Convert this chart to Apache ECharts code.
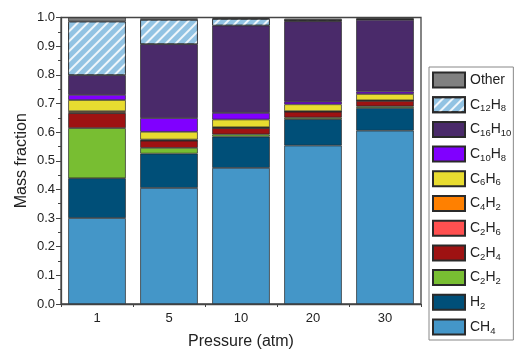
<!DOCTYPE html>
<html><head><meta charset="utf-8">
<script src="https://cdn.jsdelivr.net/npm/echarts@6/dist/echarts.min.js"></script>
<style>html,body{margin:0;padding:0;background:#fff}#c{width:518px;height:355px}</style>
</head><body><div id="c"></div>
<script>
var categories = ['1', '5', '10', '20', '30'];
var CH4    = [0.300, 0.405, 0.475, 0.553, 0.605];
var H2     = [0.139, 0.120, 0.109, 0.092, 0.079];
var C2H2   = [0.175, 0.020, 0.008, 0.006, 0.006];
var C2H4   = [0.052, 0.025, 0.022, 0.020, 0.019];
var C2H6   = [0.002, 0.001, 0.001, 0.001, 0.001];
var C4H2   = [0.005, 0.003, 0.002, 0.001, 0.001];
var C6H6   = [0.039, 0.027, 0.027, 0.024, 0.022];
var C10H8  = [0.018, 0.048, 0.023, 0.009, 0.008];
var C16H10 = [0.069, 0.258, 0.305, 0.281, 0.251];
var C12H8  = [0.187, 0.085, 0.023, 0.004, 0.002];
var Other  = [0.014, 0.005, 0.003, 0.005, 0.004];
var yTicks = [0, 0.1, 0.2, 0.3, 0.4, 0.5, 0.6, 0.7, 0.8, 0.9, 1.0];

var seriesDefs = [
  ['CH4', CH4, '#4496C8'],
  ['H2', H2, '#004F78'],
  ['C2H2', C2H2, '#78BE32'],
  ['C2H4', C2H4, '#9E1212'],
  ['C2H6', C2H6, '#FF5050'],
  ['C4H2', C4H2, '#FF8000'],
  ['C6H6', C6H6, '#E8DC30'],
  ['C10H8', C10H8, '#8000FF'],
  ['C16H10', C16H10, '#4A2A6A'],
  ['C12H8', C12H8, '#92C3E3'],
  ['Other', Other, '#808080']
];
var FONT = 'Liberation Sans, Arial, sans-serif';
var series = seriesDefs.map(function (d) {
  var s = {
    name: d[0], type: 'bar', stack: 'all', data: d[1], barWidth: '80%',
    itemStyle: { color: d[2], borderColor: '#2a2a2a', borderWidth: 0.7 }
  };
  if (d[0] === 'C12H8') {
    s.itemStyle.decal = { symbol: 'rect', symbolSize: 1, color: 'rgba(255,255,255,0.85)',
      dashArrayX: [1, 0], dashArrayY: [1.5, 4.5], rotation: -Math.PI / 4 };
  }
  return s;
});
var chart = echarts.init(document.getElementById('c'), null, { renderer: 'canvas' });
chart.setOption({
  animation: false,
  textStyle: { fontFamily: FONT },
  grid: { left: 61, right: 97, top: 17.5, bottom: 47, show: true, borderColor: '#444', borderWidth: 1.3, backgroundColor: 'transparent' },
  legend: {
    orient: 'vertical', left: 429, top: 67, itemWidth: 32, itemHeight: 15, itemGap: 6.7,
    icon: 'rect', itemTextGap: 4,
    padding: [4, 2, 4, 3], borderColor: '#888', borderWidth: 1,
    data: seriesDefs.map(function (d) { return d[0]; }).reverse(),
    formatter: function (name) { return name.replace(/(\d+)/g, '{s|$1}'); },
    textStyle: { fontSize: 14, color: '#222', fontFamily: FONT, lineHeight: 18,
      rich: { s: { fontSize: 9.5, fontFamily: FONT, color: '#222', verticalAlign: 'bottom', lineHeight: 18, padding: [7, 0, 0, 0] } } }
  },
  xAxis: [{
    type: 'category', data: categories, name: 'Pressure (atm)', nameLocation: 'middle', nameGap: 30,
    nameTextStyle: { fontSize: 16, color: '#222', fontFamily: FONT },
    axisLine: { lineStyle: { color: '#444', width: 1.3 } },
    axisTick: { alignWithLabel: true, length: 5, lineStyle: { color: '#444' } },
    axisLabel: { fontSize: 13, color: '#222', margin: 8 }
  }, {
    type: 'category', data: categories, position: 'bottom',
    axisLine: { show: false }, axisLabel: { show: false },
    axisTick: { show: true, length: 3, lineStyle: { color: '#444' } }
  }],
  yAxis: {
    type: 'value', min: 0, max: 1, interval: 0.1, name: 'Mass fraction', nameLocation: 'middle', nameGap: 31,
    nameMoveOverlap: false,
    nameTextStyle: { fontSize: 16, color: '#222', fontFamily: FONT },
    axisLine: { show: true, lineStyle: { color: '#444', width: 1.3 } },
    axisTick: { show: true, length: 5, lineStyle: { color: '#444' } },
    minorTick: { show: true, splitNumber: 2, length: 3, lineStyle: { color: '#444' } },
    splitLine: { show: false },
    axisLabel: { fontSize: 13, color: '#222', margin: 6, formatter: function (v) { return v.toFixed(1); } }
  },
  series: series
});
</script></body></html>
